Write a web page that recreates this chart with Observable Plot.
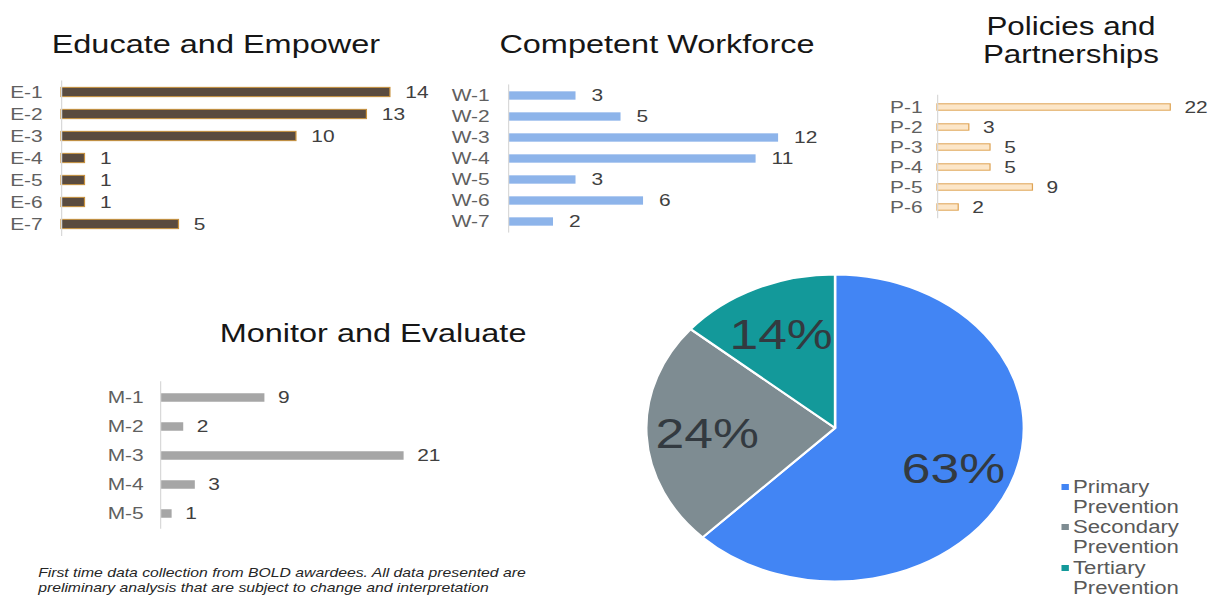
<!DOCTYPE html>
<html>
<head>
<meta charset="utf-8">
<script src="https://cdn.jsdelivr.net/npm/d3@7"></script>
<script src="https://cdn.jsdelivr.net/npm/@observablehq/plot@0.6"></script>
<style>
  html, body { margin: 0; padding: 0; background: #fff; overflow: hidden; }
  #stage { position: absolute; left: 0; top: 0; width: 983px; height: 597px;
           transform: scaleX(1.23); transform-origin: 0 0;
           font-family: "Liberation Sans", Arial, sans-serif; }
  .box { position: absolute; }
  .title { position: absolute; font-size: 26.4px; line-height: 28.4px; color: #161616;
           white-space: nowrap; transform: translateX(-50%); text-align: center; }
  .title.small { font-size: 25.5px; }
  .caption { position: absolute; font-size: 12.8px; line-height: 15px; font-style: italic;
             color: #262626; white-space: nowrap; }
  .legend { position: absolute; font-size: 18px; line-height: 20.3px; color: #595959; }
  .legend .item { position: relative; }
  .legend .sw { position: absolute; left: -9px; top: 7px; width: 6px; height: 6px; }
</style>
</head>
<body>
<div id="stage"></div>
<script>
// ---------- data ----------
const educateCats = ["E-1", "E-2", "E-3", "E-4", "E-5", "E-6", "E-7"];
const educateVals = [14, 13, 10, 1, 1, 1, 5];

const workforceCats = ["W-1", "W-2", "W-3", "W-4", "W-5", "W-6", "W-7"];
const workforceVals = [3, 5, 12, 11, 3, 6, 2];

const policyCats = ["P-1", "P-2", "P-3", "P-4", "P-5", "P-6"];
const policyVals = [22, 3, 5, 5, 9, 2];

const monitorCats = ["M-1", "M-2", "M-3", "M-4", "M-5"];
const monitorVals = [9, 2, 21, 3, 1];

const preventionLabels = ["Primary Prevention", "Secondary Prevention", "Tertiary Prevention"];
const preventionShares = [63, 24, 14];

const chartTitles = ["Educate and Empower", "Competent Workforce", "Policies and\nPartnerships", "Monitor and Evaluate"];
const captionLines = [
  "First time data collection from BOLD awardees. All data presented are",
  "preliminary analysis that are subject to change and interpretation"
];

// ---------- layout helpers ----------
const stage = document.getElementById("stage");
const baseStyle = { background: "transparent", overflow: "visible", maxWidth: "none",
                    fontFamily: "'Liberation Sans', Arial, sans-serif" };

function place(node, left, top) {
  const d = document.createElement("div");
  d.className = "box";
  d.style.left = left + "px";
  d.style.top = top + "px";
  d.appendChild(node);
  stage.appendChild(d);
}

function title(text, cx, top, cls) {
  const d = document.createElement("div");
  d.className = "title" + (cls ? " " + cls : "");
  d.style.left = cx + "px";
  d.style.top = top + "px";
  d.innerHTML = text.split("\n").join("<br>");
  stage.appendChild(d);
}

function barChart(o) {
  const n = o.cats.length;
  const step = (o.yLast - o.yFirst) / (n - 1);
  const frameTop = o.yFirst - step / 2, frameBottom = o.yLast + step / 2;
  const ml = o.axisX - o.left;
  const maxV = d3.max(o.vals);
  const data = o.cats.map((c, i) => ({ c, v: o.vals[i] }));
  const inset = (step - o.barH) / 2;
  const svg = Plot.plot({
    width: o.width, height: o.height,
    marginLeft: ml, marginRight: 0,
    marginTop: frameTop - o.top, marginBottom: o.top + o.height - frameBottom,
    style: baseStyle,
    x: { domain: [0, maxV], range: [ml, ml + o.unit * maxV], axis: null },
    y: { domain: o.cats, padding: 0, axis: null },
    marks: [
      Plot.barX(data, { x: "v", y: "c", fill: o.fill, stroke: o.stroke, strokeWidth: o.stroke ? 1 : 0,
                        insetTop: inset, insetBottom: inset }),
      Plot.ruleX([0], { stroke: "#d9d9d9", strokeWidth: 1 }),
      Plot.axisY({ tickSize: 0, tickPadding: o.tickGap, fontSize: 17, color: "#606060", label: null }),
      Plot.text(data, { x: "v", y: "c", text: d => String(d.v), dx: o.labelGap, textAnchor: "start",
                        fontSize: 17, fill: "#404040" })
    ]
  });
  place(svg, o.left, o.top);
}

// ---------- bar charts ----------
barChart({ cats: educateCats, vals: educateVals, left: 0, top: 60, width: 355, height: 190,
  axisX: 49.6, unit: 19.1, yFirst: 91.7, yLast: 225, barH: 9.5,
  fill: "#5a4b3f", stroke: "#c8913c", tickGap: 15.4, labelGap: 12 });

barChart({ cats: workforceCats, vals: workforceVals, left: 360, top: 60, width: 330, height: 190,
  axisX: 413.0, unit: 18.3, yFirst: 95, yLast: 222, barH: 8.5,
  fill: "#8db4ea", stroke: null, tickGap: 15.4, labelGap: 12.5 });

barChart({ cats: policyCats, vals: policyVals, left: 700, top: 70, width: 283, height: 170,
  axisX: 761.8, unit: 8.62, yFirst: 105, yLast: 208, barH: 7,
  fill: "#fce6c8", stroke: "#dfa455", tickGap: 12.2, labelGap: 11 });

barChart({ cats: monitorCats, vals: monitorVals, left: 0, top: 360, width: 420, height: 180,
  axisX: 130.1, unit: 9.43, yFirst: 396, yLast: 514, barH: 9,
  fill: "#a6a6a6", stroke: null, tickGap: 13.8, labelGap: 10.5 });

// ---------- titles ----------
title(chartTitles[0], 175.5, 30);
title(chartTitles[1], 534.1, 30);
title(chartTitles[2], 870.7, 11.5, "small");
title(chartTitles[3], 303.3, 318.5);

// ---------- pie ----------
const pieColors = ["#4285f4", "#7e8c92", "#13999a"];
const pieLeft = 500, pieTop = 265;
const pieSvg = Plot.plot({
  width: 340, height: 332, margin: 0, style: baseStyle,
  marks: [
    () => {
      const cx = 178.9, cy = 163, R = 153.5;
      const g = d3.create("svg:g").attr("transform", `translate(${cx},${cy})`);
      const arcs = d3.pie().sort(null)(preventionShares);
      const arc = d3.arc().innerRadius(0).outerRadius(R);
      const labelArc = d3.arc().innerRadius(104).outerRadius(104);
      g.selectAll("path").data(arcs).join("path")
        .attr("d", arc)
        .attr("fill", (d, i) => pieColors[i])
        .attr("stroke", "#ffffff").attr("stroke-width", 2).attr("stroke-linejoin", "round");
      g.selectAll("text").data(arcs).join("text")
        .attr("transform", d => `translate(${labelArc.centroid(d)})`)
        .attr("text-anchor", "middle").attr("dy", "0.36em")
        .attr("font-size", 42).attr("fill", "#333a40")
        .text((d, i) => preventionShares[i] + "%");
      return g.node();
    }
  ]
});
place(pieSvg, pieLeft, pieTop);

// ---------- legend ----------
const legend = document.createElement("div");
legend.className = "legend";
legend.style.left = "872.4px";
legend.style.top = "476.5px";
preventionLabels.forEach((lab, i) => {
  const item = document.createElement("div");
  item.className = "item";
  const sw = document.createElement("span");
  sw.className = "sw";
  sw.style.background = pieColors[i];
  item.appendChild(sw);
  const parts = lab.split(" ");
  item.appendChild(document.createTextNode(parts[0]));
  item.appendChild(document.createElement("br"));
  item.appendChild(document.createTextNode(parts.slice(1).join(" ")));
  legend.appendChild(item);
});
stage.appendChild(legend);

// ---------- caption ----------
const cap = document.createElement("div");
cap.className = "caption";
cap.style.left = "31px";
cap.style.top = "564.5px";
cap.innerHTML = captionLines.join("<br>");
stage.appendChild(cap);
</script>
</body>
</html>
